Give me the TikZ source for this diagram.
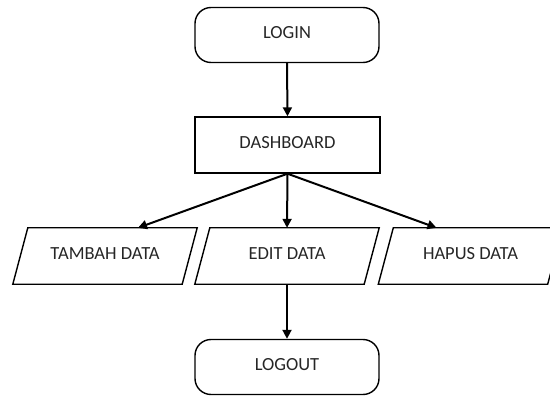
\documentclass[tikz,border=0pt]{standalone}
\usepackage{fontspec}
\setmainfont{Carlito}
\usetikzlibrary{arrows.meta,calc}

\tikzset{
  frame/.style={draw=black, line width=1.4pt},
  label/.style={text=black!85, font=\fontsize{18.5}{21}\selectfont, inner sep=0pt,
    text height=12pt, text depth=5pt},
  terminal/.style={label, frame, rectangle, rounded corners=16pt,
    minimum width=184pt, minimum height=55pt},
  process/.style={label, frame, rectangle, minimum width=185pt, minimum height=56pt},
  % body of a data parallelogram; its slanted outline is drawn separately
  io/.style={label, rectangle, minimum width=169pt, minimum height=56pt},
  flow/.style={line width=2pt, -{Triangle[length=9pt,width=9pt]}}
}

\begin{document}
\begin{tikzpicture}[x=1pt,y=-1pt]
  \useasboundingbox (0,0) rectangle (550,396);

  \node[terminal] (login) at (287,35) {LOGIN};
  \node[process] (dash) at (287.5,145) {DASHBOARD};
  \node[io] (tambah) at (105,256) {TAMBAH DATA};
  \node[io] (edit) at (287,256) {EDIT DATA};
  \node[io] (hapus) at (470.5,256) {HAPUS DATA};
  \node[terminal] (logout) at (287,367) {LOGOUT};

  % slanted outlines of the data parallelograms
  \foreach \n in {tambah,edit,hapus}
    \draw[frame] ([xshift=7.5pt]\n.north west) -- ([xshift=7.5pt]\n.north east)
      -- ([xshift=-7.5pt]\n.south east) -- ([xshift=-7.5pt]\n.south west) -- cycle;

  % entry points on the top edges of the side parallelograms
  \coordinate (tambahIn) at ($(tambah.north)+(33,0)$);
  \coordinate (hapusIn) at ($(hapus.north)+(-34,0)$);
  \coordinate (dashOut) at (dash.south);

  \draw[flow] (login.south) -- (dash.north);
  \draw[flow] (dashOut) -- (tambahIn);
  \draw[flow] (dashOut) -- (edit.north);
  \draw[flow] (dashOut) -- (hapusIn);
  \draw[flow] (edit.south) -- (logout.north);
\end{tikzpicture}
\end{document}
